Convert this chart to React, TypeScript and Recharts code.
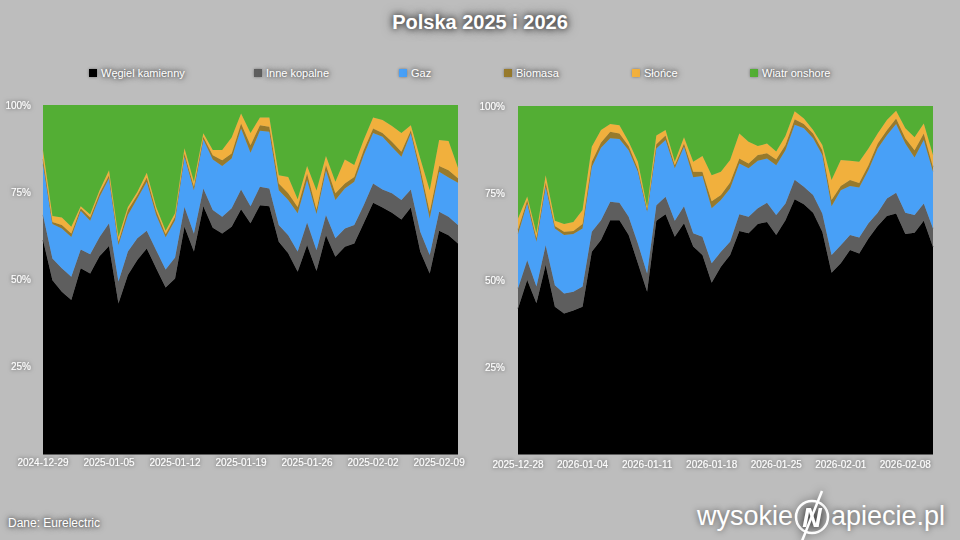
import React from 'react';
import { AreaChart, Area, XAxis, YAxis } from 'recharts';

const FONT = '"Liberation Sans", Arial, Helvetica, sans-serif';
const BG = '#bdbdbd';

const SERIES = [
  { key: 'coal', name: 'Węgiel kamienny', color: '#000000' },
  { key: 'other', name: 'Inne kopalne', color: '#5e5e5e' },
  { key: 'gas', name: 'Gaz', color: '#48a0f7' },
  { key: 'biomass', name: 'Biomasa', color: '#977a2c' },
  { key: 'solar', name: 'Słońce', color: '#f1b03d' },
  { key: 'wind', name: 'Wiatr onshore', color: '#53ae34' },
];
const LEGEND_X = [89, 254, 399, 504, 632, 750];
const Y_TICKS = [25, 50, 75, 100];

// 2024-12-29 .. 2025-02-11, udział w %
const coal2025 = [61.3, 49.8, 46.5, 44.1, 53.2, 51.7, 56.7, 59.6, 43.1, 51.3, 55.6, 58.9, 53.2, 47.7, 50.3, 65.1, 58.0, 71.0, 64.8, 63.2, 65.1, 70.1, 66.1, 71.3, 71.0, 60.8, 57.5, 52.2, 59.9, 52.4, 62.7, 56.5, 59.4, 60.3, 66.1, 72.0, 70.6, 69.1, 67.2, 70.6, 58.0, 51.7, 64.0, 62.7, 60.3];
const other2025 = [7.2, 6.2, 6.7, 6.7, 5.4, 5.5, 5.5, 6.5, 6.3, 6.7, 6.2, 5.1, 5.2, 5.2, 6.0, 5.7, 5.2, 5.1, 5.1, 4.8, 5.3, 5.7, 4.9, 5.3, 5.1, 4.8, 5.2, 5.8, 6.4, 6.0, 5.8, 5.3, 5.2, 5.3, 5.2, 5.5, 5.2, 5.6, 5.6, 5.2, 5.7, 5.3, 5.4, 5.3, 5.3];
const gas2025 = [14.5, 9.9, 11.4, 11.4, 11.1, 9.6, 11.5, 12.9, 10.5, 10.5, 11.4, 14.0, 10.1, 9.2, 10.7, 14.4, 12.4, 14.0, 14.5, 14.5, 14.3, 17.5, 15.3, 16.0, 16.2, 10.0, 10.1, 11.0, 12.2, 10.4, 12.7, 11.0, 11.5, 12.4, 14.3, 14.5, 15.1, 13.3, 12.4, 16.1, 16.7, 10.5, 11.5, 11.2, 12.1];
const biomass2025 = [1.5, 0.6, 1.0, 1.0, 0.7, 1.0, 1.0, 0.9, 0.9, 1.4, 1.0, 1.2, 1.2, 0.9, 1.0, 0.9, 1.0, 0.8, 1.2, 1.7, 1.4, 1.4, 2.2, 1.6, 1.5, 1.9, 1.9, 1.8, 1.9, 1.2, 1.6, 1.9, 1.4, 1.4, 1.5, 1.3, 1.1, 1.5, 1.4, 0.9, 1.4, 1.9, 1.6, 2.1, 1.3];
const solar2025 = [2.5, 1.7, 2.2, 1.9, 0.6, 0.8, 0.9, 1.4, 1.4, 0.9, 0.9, 1.4, 1.1, 1.0, 1.0, 1.5, 1.4, 1.0, 1.5, 2.9, 4.6, 2.9, 3.5, 2.2, 2.6, 2.4, 4.7, 2.2, 2.1, 5.5, 2.6, 3.3, 6.9, 3.4, 2.9, 3.1, 3.7, 4.5, 5.4, 1.4, 2.9, 6.2, 7.5, 8.4, 3.0];
const wind2025 = [13.0, 31.8, 32.2, 34.9, 29.0, 31.4, 24.4, 18.7, 37.8, 29.2, 24.9, 19.4, 29.2, 36.0, 31.0, 12.4, 22.0, 8.1, 12.9, 12.9, 9.3, 2.4, 8.0, 3.6, 3.6, 20.1, 20.6, 27.0, 17.5, 24.5, 14.6, 22.0, 15.6, 17.2, 10.0, 3.6, 4.3, 6.0, 8.0, 5.8, 15.3, 24.4, 10.0, 10.3, 18.0];

// 2025-12-28 .. 2026-02-11
const coal2026 = [41.8, 50.0, 43.3, 54.3, 42.3, 40.4, 41.2, 42.3, 58.1, 61.5, 67.2, 67.2, 62.9, 54.8, 46.6, 67.0, 68.9, 62.4, 66.3, 59.6, 57.2, 49.2, 53.8, 57.2, 64.1, 63.4, 66.1, 66.7, 62.9, 67.2, 73.2, 71.8, 69.3, 63.9, 52.1, 54.8, 58.6, 57.6, 61.9, 65.5, 68.4, 69.1, 63.2, 63.6, 67.0, 59.5];
const other2026 = [5.8, 5.7, 4.8, 5.7, 6.2, 5.7, 5.4, 5.8, 5.8, 5.7, 5.3, 5.0, 5.3, 5.7, 5.3, 4.5, 5.0, 4.6, 4.9, 3.8, 5.2, 5.6, 4.3, 3.8, 4.8, 4.8, 4.5, 5.5, 5.8, 4.8, 5.6, 5.0, 5.1, 5.2, 5.1, 5.2, 4.3, 4.6, 4.4, 3.8, 5.0, 6.0, 6.1, 5.1, 5.0, 5.3];
const gas2026 = [15.6, 16.3, 12.9, 16.8, 16.3, 16.8, 16.6, 16.7, 18.6, 20.8, 18.2, 18.3, 19.1, 20.6, 17.7, 16.3, 16.3, 15.1, 17.1, 16.1, 17.5, 15.8, 14.9, 15.3, 14.6, 13.9, 13.7, 12.7, 14.3, 15.3, 15.8, 16.8, 16.3, 16.8, 14.0, 15.8, 14.1, 14.4, 15.3, 18.5, 18.2, 19.7, 19.9, 16.5, 18.2, 16.3];
const biomass2026 = [1.3, 1.0, 1.0, 1.2, 0.7, 1.0, 0.9, 1.3, 1.5, 1.5, 1.9, 1.6, 1.2, 0.9, 0.6, 1.2, 1.3, 0.9, 0.9, 1.6, 1.2, 2.0, 1.4, 1.7, 1.4, 1.4, 1.6, 1.5, 1.6, 1.5, 1.6, 1.2, 1.4, 1.4, 1.8, 1.2, 1.7, 1.3, 1.4, 1.4, 1.4, 1.6, 1.5, 2.1, 1.9, 1.4];
const solar2026 = [3.2, 1.0, 1.4, 2.1, 1.5, 2.2, 2.6, 4.0, 4.3, 3.6, 2.2, 2.4, 1.2, 2.0, 0.8, 2.5, 1.6, 1.0, 1.8, 2.9, 4.5, 7.5, 6.7, 6.5, 7.2, 6.2, 2.6, 2.8, 2.3, 2.6, 2.3, 1.6, 1.0, 1.5, 5.7, 7.5, 5.6, 6.1, 4.8, 2.9, 3.0, 2.2, 2.9, 3.7, 2.9, 3.4];
const wind2026 = [32.3, 26.0, 36.6, 19.9, 33.0, 33.9, 33.3, 29.9, 11.7, 6.9, 5.2, 5.5, 10.3, 16.0, 29.0, 8.5, 6.9, 16.0, 9.0, 16.0, 14.4, 19.9, 18.9, 15.5, 7.9, 10.3, 11.5, 10.8, 13.1, 8.6, 1.5, 3.6, 6.9, 11.2, 21.3, 15.5, 15.7, 16.0, 12.2, 7.9, 4.0, 1.4, 6.4, 9.0, 5.0, 14.1];

function days(start: string, count: number) {
  const t0 = Date.parse(start + 'T00:00:00Z');
  const out: string[] = [];
  for (let i = 0; i < count; i++) out.push(new Date(t0 + i * 86400000).toISOString().slice(0, 10));
  return out;
}

function rows(dates: string[], s: number[][]) {
  return dates.map((date, i) => ({
    date,
    coal: s[0][i],
    other: s[1][i],
    gas: s[2][i],
    biomass: s[3][i],
    solar: s[4][i],
    wind: s[5][i],
  }));
}

const data2025 = rows(days('2024-12-29', coal2025.length), [coal2025, other2025, gas2025, biomass2025, solar2025, wind2025]);
const data2026 = rows(days('2025-12-28', coal2026.length), [coal2026, other2026, gas2026, biomass2026, solar2026, wind2026]);

const shadow = '0 0 4px rgba(0,0,0,0.75), 0 0 8px rgba(0,0,0,0.45)';

function XTick(props: any) {
  const { x, y, payload } = props;
  return (
    <text x={x} y={y} dy="0.71em" textAnchor="middle" fill="#fff" fontSize={10} fontFamily={FONT} filter="url(#glow)">
      {payload.value}
    </text>
  );
}

function YTick(props: any) {
  const { x, y, payload } = props;
  return (
    <text x={x} y={y} dy="0.355em" textAnchor="end" fill="#fff" fontSize={10} fontFamily={FONT} filter="url(#glow)">
      {payload.value}%
    </text>
  );
}

function Panel({ data, left, top, labelGap, tickGap }: { data: any[]; left: number; top: number; labelGap: number; tickGap: number }) {
  return (
    <div style={{ position: 'absolute', left, top: 0 }}>
      <AreaChart width={470} height={480} data={data} margin={{ top, right: 12, left: 0, bottom: 0 }}>
        <XAxis
          dataKey="date"
          interval={6}
          height={26}
          tickSize={0}
          tickMargin={tickGap}
          tickLine={false}
          axisLine={{ stroke: '#000' }}
          tick={<XTick />}
        />
        <YAxis
          domain={[0, 100]}
          ticks={Y_TICKS}
          width={43}
          tickSize={0}
          tickMargin={labelGap}
          axisLine={false}
          tickLine={false}
          allowDataOverflow
          tick={<YTick />}
        />
        {SERIES.map((s) => (
          <Area
            key={s.key}
            dataKey={s.key}
            name={s.name}
            stackId="mix"
            type="linear"
            fill={s.color}
            fillOpacity={1}
            stroke={s.color}
            strokeWidth={0.6}
            dot={false}
            activeDot={false}
            isAnimationActive={false}
          />
        ))}
      </AreaChart>
    </div>
  );
}

export default function App() {
  return (
    <div
      style={{
        position: 'fixed',
        left: 0,
        top: 0,
        width: 960,
        height: 540,
        background: BG,
        overflow: 'hidden',
        fontFamily: FONT,
        color: '#fff',
      }}
    >
      <svg width={0} height={0} style={{ position: 'absolute' }}>
        <defs>
          <filter id="glow" x="-30%" y="-60%" width="160%" height="220%">
            <feGaussianBlur in="SourceAlpha" stdDeviation="2.2" result="blur" />
            <feFlood floodColor="#000" floodOpacity="0.6" />
            <feComposite in2="blur" operator="in" />
            <feMerge>
              <feMergeNode />
              <feMergeNode in="SourceGraphic" />
            </feMerge>
          </filter>
        </defs>
      </svg>

      <div
        style={{
          position: 'absolute',
          top: 8,
          width: 960,
          textAlign: 'center',
          fontSize: 20,
          fontWeight: 'bold',
          lineHeight: '28px',
          textShadow: '0 0 6px rgba(0,0,0,0.8), 0 0 12px rgba(0,0,0,0.5)',
        }}
      >
        Polska 2025 i 2026
      </div>

      {SERIES.map((s, i) => (
        <div key={s.key} style={{ position: 'absolute', left: LEGEND_X[i], top: 66, display: 'flex', alignItems: 'center', height: 14 }}>
          <span style={{ width: 8, height: 8, background: s.color, display: 'inline-block', boxShadow: '0 0 3px rgba(0,0,0,0.4)' }} />
          <span style={{ marginLeft: 4, fontSize: 11, textShadow: shadow }}>{s.name}</span>
        </div>
      ))}

      <Panel data={data2025} left={0} top={105} labelGap={12} tickGap={5} />
      <Panel data={data2026} left={475} top={106} labelGap={13} tickGap={7} />

      <div style={{ position: 'absolute', left: 8, top: 516, fontSize: 12, textShadow: shadow }}>Dane: Eurelectric</div>

      <div
        style={{
          position: 'absolute',
          left: 697,
          top: 490,
          display: 'flex',
          alignItems: 'center',
          fontSize: 27,
          lineHeight: '34px',
          textShadow: '0 0 6px rgba(0,0,0,0.6)',
        }}
      >
        <span>wysokie</span>
        <svg width={40} height={52} style={{ margin: '0 -1px', filter: 'drop-shadow(0 0 4px rgba(0,0,0,0.5))' }}>
          <circle cx={20} cy={27} r={16} fill="none" stroke="#fff" strokeWidth={2.5} />
          <text x={20} y={37} textAnchor="middle" fontSize={27} fontWeight="bold" fontStyle="italic" fill="#fff" fontFamily={FONT}>
            N
          </text>
          <line x1={30} y1={1} x2={10} y2={51} stroke="#fff" strokeWidth={2.5} />
        </svg>
        <span>apiecie.pl</span>
      </div>
    </div>
  );
}
